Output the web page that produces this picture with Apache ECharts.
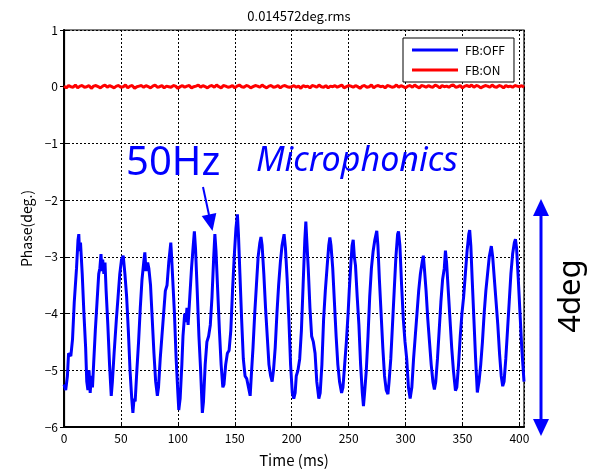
<!DOCTYPE html>
<html>
<head>
<meta charset="utf-8">
<script src="https://cdn.jsdelivr.net/npm/echarts@6/dist/echarts.min.js"></script>
<style>
  html, body { margin: 0; padding: 0; background: #fff; }
  #chart { width: 602px; height: 473px; }
</style>
</head>
<body>
<div id="chart"></div>
<script>
// Phase error of the cavity, feedback off vs. feedback on
const titleText = '0.014572deg.rms';
const seriesNames = ['FB:OFF', 'FB:ON'];
const xTicks = [0, 50, 100, 150, 200, 250, 300, 350, 400];
const yTicks = [1, 0, -1, -2, -3, -4, -5, -6];

// FB:OFF — time (ms)
const blueTime = [
  0, 1.5, 3, 4, 6, 7.5, 9, 11, 12.3, 13, 13.6, 14.5, 16, 17.5, 19, 20, 21, 22, 23, 24, 25, 26,
  27.5, 29, 30.5, 31.5, 32.5, 33.3, 34, 35, 36, 37, 38.5, 40, 41.5, 42.5,
  44, 46, 47.5, 49, 50.5, 52, 53.5, 55, 56.5, 58, 59.5, 60.5, 61.5, 62.5,
  64, 65.5, 67, 68.5, 70, 71, 72, 73.5, 74.5, 76, 77.5, 79, 80.5, 82, 83,
  84.5, 86, 87.5, 89, 90.5, 92, 93.8, 94.5, 95.5, 97, 98.5, 100, 100.8, 102,
  103.5, 104.5, 106, 107, 108, 109, 110.5, 112, 113.5, 114.5, 115.5, 117, 118.5, 120, 121.5, 122.5,
  124, 125.5, 127, 128.5, 130, 131.5, 132.5, 133.5, 135, 136.5, 138, 139.5, 140.5, 142,
  143.5, 145, 146.5, 148, 149.5, 151, 152.3, 153.2, 154.5, 156, 157.5, 159, 160.5, 162, 163.5, 164.5,
  166, 167.5, 169, 170.5, 172, 173, 174, 175.5, 177, 178.5, 180, 181.5, 182.8, 184,
  185.5, 187, 188.5, 190, 191.5, 193.3, 194.5, 196, 197.5, 199, 200.5, 201.8, 203,
  204, 205.5, 207, 208.5, 210, 211.5, 212.4, 213.2, 214.5, 216, 217.5, 219, 220.5, 222, 223.8, 225,
  226.5, 228, 229.5, 231, 232.5, 233.5, 234.5, 236, 237.5, 239, 240.5, 242, 243.8, 245,
  246.5, 248, 249.5, 250.5, 252, 253, 254, 255, 256, 257.5, 259, 260.5, 262, 263, 264,
  265.5, 267, 268.5, 270, 271.5, 273, 274.7, 275.7, 277, 278.5, 280, 281.5, 283, 284.5, 285.5,
  287, 288.5, 290, 291.5, 293, 293.8, 295, 296.5, 298, 299.5, 301, 302.5, 304, 305.5,
  307, 308.5, 310, 311.5, 313, 314.5, 315.6, 316.5, 318, 319.5, 321, 322.5, 324, 325.3, 326.5,
  328, 329.5, 331, 332.5, 334, 335, 336, 337.5, 339, 340.5, 342, 343.8, 345,
  346.5, 348, 349.5, 351, 352.5, 354, 355.5, 356.3, 357.3, 358.5, 360, 361.5, 363, 364.5,
  366, 367.5, 369, 370.5, 372, 373.5, 375.3, 376.5, 378, 379.5, 381, 382.5, 384, 385.3, 386.5,
  388, 389.5, 391, 392.5, 394, 395.5, 396.5, 397.5, 399, 400.5, 402, 403, 404
];
// FB:OFF — phase (deg)
const bluePhase = [
  -5.25, -5.35, -5.1, -4.7, -4.75, -4.45, -3.8, -3.2, -2.7, -2.6, -2.9, -2.75, -3.3, -4.0, -4.6, -5.2, -5.35, -5.0, -5.4, -5.1, -5.3, -4.9,
  -4.3, -3.8, -3.3, -3.2, -2.95, -3.25, -3.05, -3.3, -3.1, -3.6, -4.2, -4.9, -5.45, -5.2,
  -4.7, -4.1, -3.7, -3.3, -3.05, -2.98, -3.3, -3.7, -4.3, -5.0, -5.5, -5.75, -5.5, -5.55,
  -5.0, -4.5, -3.9, -3.4, -3.1, -2.92, -3.25, -3.1, -3.2, -3.5, -4.1, -4.7, -5.2, -5.45, -5.3,
  -4.8, -4.4, -4.0, -3.6, -3.5, -3.1, -2.75, -3.0, -3.4, -4.0, -4.8, -5.4, -5.7, -5.5,
  -4.9, -4.4, -4.0, -4.15, -3.9, -4.2, -3.7, -3.2, -2.8, -2.55, -2.85, -3.6, -4.4, -5.0, -5.75, -5.55,
  -4.9, -4.5, -4.4, -4.2, -3.7, -3.0, -2.6, -2.9, -3.6, -4.3, -4.9, -5.3, -5.25, -4.9,
  -4.7, -4.65, -4.3, -3.6, -3.0, -2.5, -2.25, -2.6, -3.3, -4.1, -4.8, -5.1, -5.15, -5.3, -5.45, -5.1,
  -4.6, -4.0, -3.5, -3.0, -2.75, -2.65, -2.8, -3.3, -3.9, -4.4, -4.9, -5.1, -5.2, -5.0,
  -4.6, -4.0, -3.5, -3.1, -2.8, -2.6, -2.85, -3.4, -4.1, -4.9, -5.4, -5.5, -5.4,
  -5.1, -5.0, -4.8, -4.3, -3.5, -2.7, -2.38, -2.7, -3.2, -3.9, -4.4, -4.5, -4.7, -5.2, -5.5, -5.4,
  -4.9, -4.1, -3.6, -3.2, -2.8, -2.66, -2.8, -3.2, -3.8, -4.4, -4.9, -5.2, -5.4, -5.3,
  -4.9, -4.5, -4.0, -3.6, -3.1, -2.8, -2.7, -3.0, -3.15, -3.7, -4.2, -4.9, -5.4, -5.63, -5.4,
  -5.0, -4.4, -3.7, -3.2, -2.9, -2.7, -2.54, -2.8, -3.4, -4.0, -4.6, -5.1, -5.35, -5.42, -5.2,
  -4.8, -4.2, -3.6, -3.0, -2.6, -2.55, -2.8, -3.5, -4.1, -4.5, -4.8, -5.3, -5.5, -5.3,
  -4.8, -4.4, -4.0, -3.6, -3.3, -3.1, -2.98, -3.2, -3.6, -4.1, -4.5, -4.9, -5.2, -5.34, -5.2,
  -4.8, -4.3, -3.8, -3.4, -3.2, -2.89, -3.1, -3.6, -4.1, -4.6, -5.0, -5.36, -5.3,
  -4.9, -4.4, -4.0, -3.7, -3.3, -2.9, -2.6, -2.53, -2.8, -3.4, -4.1, -4.8, -5.39, -5.2,
  -4.9, -4.5, -4.0, -3.6, -3.3, -3.0, -2.81, -3.0, -3.4, -3.8, -4.2, -4.7, -5.1, -5.28, -5.2,
  -4.8, -4.3, -3.8, -3.3, -2.95, -2.75, -2.69, -2.85, -3.4, -4.0, -4.6, -4.9, -5.2
];

// FB:ON — phase (deg), sampled every 2 ms
const redStep = 2;
const redPhase = [
  0.01, -0.02, 0.02, 0.00, -0.01, 0.03, -0.02, 0.01, 0.02, -0.01, 0.00, 0.02, -0.03, 0.01, 0.02, 0.00, -0.02, 0.01, 0.03, -0.01,
  0.02, 0.00, -0.02, 0.01, 0.02, -0.01, 0.00, 0.03, -0.02, 0.01, 0.02, -0.03, 0.00, 0.01, 0.02, -0.01, 0.02, 0.00, -0.02, 0.01,
  0.03, -0.01, 0.00, 0.02, -0.02, 0.01, 0.00, -0.01, 0.02, 0.01, -0.03, 0.00, 0.02, -0.01, 0.01, 0.02, -0.02, 0.00, 0.01, 0.03,
  -0.01, 0.02, 0.00, -0.02, 0.01, 0.02, -0.01, 0.03, 0.00, -0.02, 0.02, 0.01, -0.01, 0.00, 0.02, -0.02, 0.01, 0.03, 0.00, -0.01,
  0.02, 0.01, -0.02, 0.00, 0.02, 0.01, -0.01, 0.03, 0.00, -0.02, 0.01, 0.02, -0.01, 0.00, 0.02, -0.02, 0.01, 0.02, 0.00, -0.01,
  0.00, 0.02, -0.01, 0.01, -0.03, 0.02, 0.00, 0.01, -0.02, 0.02, 0.01, -0.01, 0.03, 0.00, -0.01, 0.02, -0.02, 0.01, 0.00, 0.02,
  -0.01, 0.01, 0.03, -0.02, 0.00, 0.02, 0.01, -0.01, 0.02, 0.00, -0.03, 0.01, 0.02, -0.01, 0.00, 0.03, -0.02, 0.01, 0.02, 0.00,
  0.01, -0.02, 0.02, 0.01, -0.01, 0.00, 0.03, -0.01, 0.02, 0.00, -0.02, 0.01, 0.02, -0.01, 0.03, 0.00, -0.02, 0.02, 0.01, -0.01,
  0.02, 0.00, -0.01, 0.03, 0.01, -0.02, 0.02, 0.00, 0.01, -0.01, 0.02, 0.03, -0.01, 0.00, 0.02, -0.02, 0.01, 0.02, 0.00, 0.03,
  -0.01, 0.02, 0.01, -0.02, 0.00, 0.02, 0.01, -0.01, 0.03, 0.00, -0.01, 0.02, 0.01, -0.02, 0.02, 0.00, 0.01, -0.01, 0.02, 0.01,
  0.00, 0.02, -0.01
];

const blueData = blueTime.map((t, i) => [t, bluePhase[i]]);
const redData = redPhase.map((v, i) => [i * redStep, v]);

const FONT = "'Noto Sans CJK JP', 'Noto Sans', sans-serif";
const minusFmt = v => (v < 0 ? '\u2212' + Math.abs(v) : String(v));
const gridDots = { show: true, lineStyle: { color: '#000', type: [2, 2], width: 1 } };

const chart = echarts.init(document.getElementById('chart'), null, { renderer: 'canvas' });

const option = {
  animation: false,
  backgroundColor: '#fff',
  title: {
    text: titleText,
    left: 294, top: 5, textAlign: 'center',
    textStyle: { fontFamily: FONT, fontSize: 13, fontWeight: 'normal', color: '#000' }
  },
  grid: {
    left: 64, top: 30, right: 78, bottom: 42,
    show: true, borderColor: '#000', borderWidth: 1.2, backgroundColor: 'transparent'
  },
  legend: {
    data: seriesNames.map(n => ({ name: n, icon: 'rect' })),
    orient: 'vertical',
    left: 403, top: 38,
    itemWidth: 46, itemHeight: 3, itemGap: 8,
    padding: [6, 9, 6, 9],
    backgroundColor: '#fff', borderColor: '#000', borderWidth: 1,
    textStyle: { fontFamily: FONT, fontSize: 12, color: '#000', padding: [0, 0, 0, 2] }
  },
  xAxis: [{
    type: 'value', min: 0, max: 404, interval: 50,
    name: 'Time (ms)', nameLocation: 'middle', nameGap: 26,
    nameTextStyle: { fontFamily: FONT, fontSize: 15, color: '#000' },
    axisLine: { show: true, onZero: false, lineStyle: { color: '#000', width: 2 } },
    axisTick: { show: true, inside: true, length: 4, lineStyle: { color: '#000' } },
    axisLabel: { showMaxLabel: false, fontFamily: FONT, fontSize: 12, color: '#000', margin: 5,
      formatter: v => (xTicks.includes(v) ? String(v) : '') },
    splitLine: gridDots
  }, {
    type: 'value', min: 0, max: 404, interval: 50, position: 'top',
    axisLine: { show: true, lineStyle: { color: '#000', width: 1.2 } },
    axisTick: { show: true, inside: true, length: 4, lineStyle: { color: '#000' } },
    axisLabel: { show: false }, splitLine: { show: false }
  }],
  yAxis: [{
    type: 'value', min: -6, max: 1, interval: 1,
    name: 'Phase(deg.)', nameLocation: 'middle', nameGap: 25,
    nameTextStyle: { fontFamily: FONT, fontSize: 14, color: '#000' },
    axisLine: { show: true, onZero: false, lineStyle: { color: '#000', width: 2 } },
    axisTick: { show: true, inside: true, length: 4, lineStyle: { color: '#000' } },
    axisLabel: { fontFamily: FONT, fontSize: 12, color: '#000', margin: 6,
      formatter: v => (yTicks.includes(v) ? minusFmt(v) : '') },
    splitLine: gridDots
  }, {
    type: 'value', min: -6, max: 1, interval: 1, position: 'right',
    axisLine: { show: true, lineStyle: { color: '#000', width: 1.2 } },
    axisTick: { show: true, inside: true, length: 4, lineStyle: { color: '#000' } },
    axisLabel: { show: false }, splitLine: { show: false }
  }],
  series: [{
    name: seriesNames[0], type: 'line', data: blueData,
    showSymbol: false, symbol: 'none', clip: true,
    lineStyle: { color: '#0000ff', width: 3 }, itemStyle: { color: '#0000ff' }, z: 3
  }, {
    name: seriesNames[1], type: 'line', data: redData,
    showSymbol: false, symbol: 'none', clip: true,
    lineStyle: { color: '#ff0000', width: 3 }, itemStyle: { color: '#ff0000' }, z: 4
  }],
  graphic: [
    // "50Hz" label with arrow pointing at one oscillation peak
    { type: 'text', left: 126, top: 144, z: 10,
      style: { text: '50Hz', font: "40px 'Noto Sans', sans-serif", fill: '#0000ff' } },
    { type: 'line', z: 10, shape: { x1: 203, y1: 187, x2: 209, y2: 215 },
      style: { stroke: '#0000ff', lineWidth: 2 } },
    { type: 'polygon', z: 10, shape: { points: [[212.5, 231], [216.3, 212.9], [201.7, 216]] },
      style: { fill: '#0000ff' } },
    { type: 'text', left: 256, top: 144, z: 10,
      style: { text: 'Microphonics', font: "italic 34px 'Noto Sans', sans-serif", fill: '#0000ff' } },
    // 4 deg peak-to-peak span marker
    { type: 'line', z: 10, shape: { x1: 541, y1: 212, x2: 541, y2: 423 },
      style: { stroke: '#0000ff', lineWidth: 3 } },
    { type: 'polygon', z: 10, shape: { points: [[541, 199], [533, 216], [549, 216]] },
      style: { fill: '#0000ff' } },
    { type: 'polygon', z: 10, shape: { points: [[541, 436], [533, 419], [549, 419]] },
      style: { fill: '#0000ff' } },
    { type: 'text', x: 571, y: 296, rotation: Math.PI / 2, z: 10,
      style: { text: '4deg', font: "31px 'Noto Sans', sans-serif", fill: '#000',
        align: 'center', verticalAlign: 'middle' } }
  ]
};

chart.setOption(option);
</script>
</body>
</html>
